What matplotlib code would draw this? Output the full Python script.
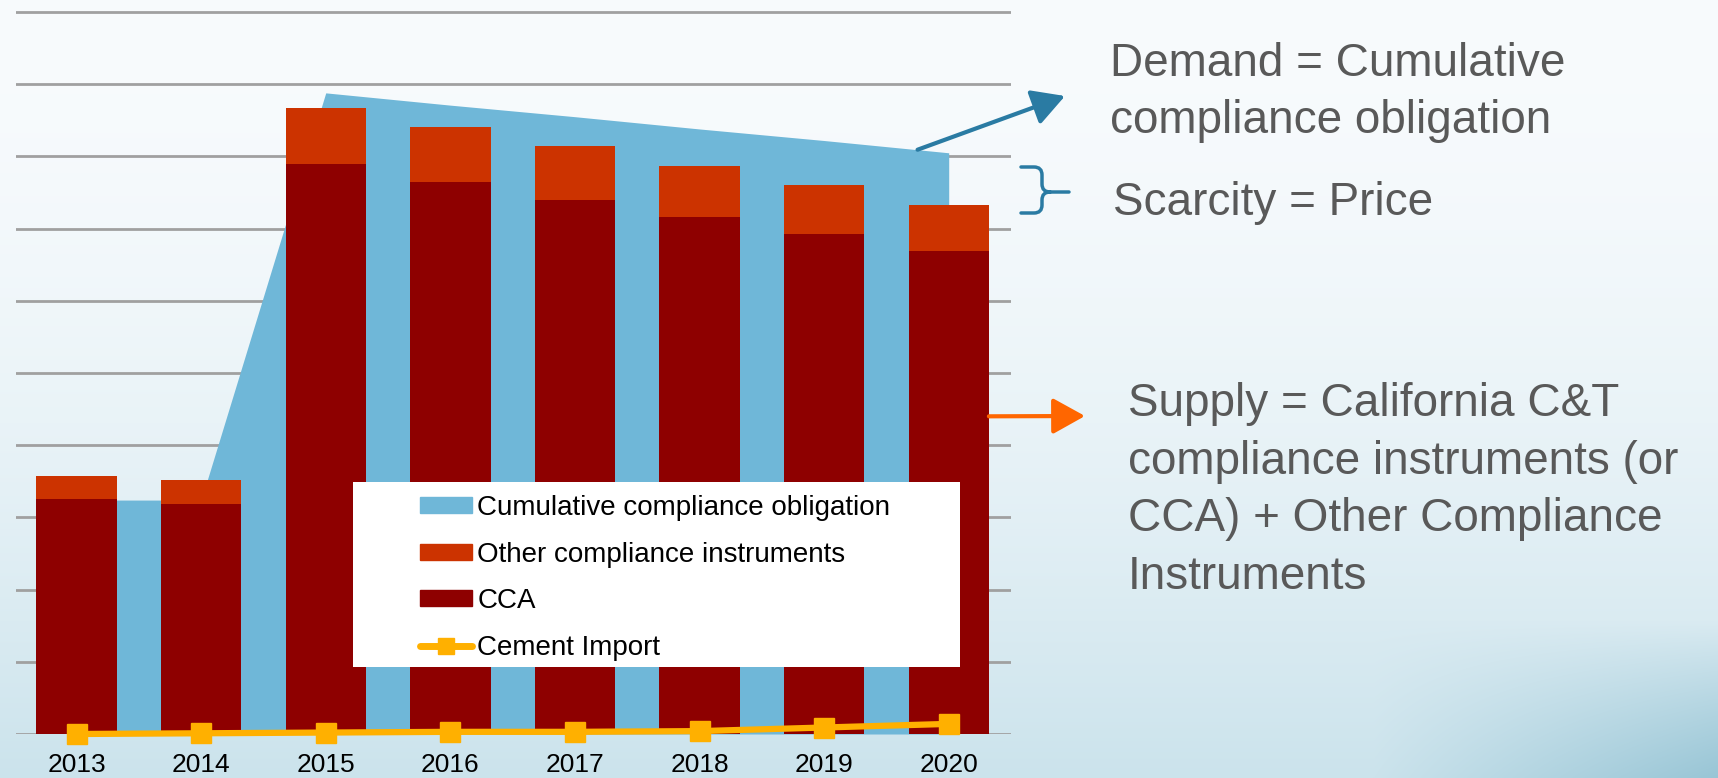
import numpy as np
import matplotlib
matplotlib.use("Agg")
import matplotlib.pyplot as plt
from matplotlib.patches import Rectangle, Patch, PathPatch
from matplotlib.lines import Line2D
from matplotlib.path import Path
from matplotlib.transforms import Affine2D

plt.rcParams['font.family'] = ['Liberation Sans', 'DejaVu Sans']

# data (units = gridline steps)
years = ['2013', '2014', '2015', '2016', '2017', '2018', '2019', '2020']
demand = [3.24, 3.24, 8.88, 8.71, 8.55, 8.38, 8.22, 8.05]
cca = [3.25, 3.19, 7.89, 7.65, 7.39, 7.16, 6.92, 6.69]
other = [0.32, 0.33, 0.78, 0.76, 0.75, 0.71, 0.68, 0.64]
cement = [0.0, 0.01, 0.02, 0.03, 0.03, 0.04, 0.09, 0.14]

labels = ['Cumulative compliance obligation', 'Other compliance instruments',
          'CCA', 'Cement Import']

C_BLUE = '#6FB7D8'
C_OTHER = '#CC3300'
C_CCA = '#8E0000'
C_CEMENT = '#FFB000'
C_TEXT = '#595959'
C_ARROW = '#2A7BA3'

W, H = 1718, 778
fig = plt.figure(figsize=(W / 100, H / 100), dpi=100)


def px(x, y):
    # pixel position (origin top-left) -> figure fraction
    return x / W, 1 - y / H


# slide background
bg = fig.add_axes([0, 0, 1, 1], zorder=-10)
yy, xx = np.mgrid[0:1:H * 1j, 0:1:W * 1j]
top = np.array([248, 251, 253]) / 255
bot = np.array([203, 227, 236]) / 255
t = yy ** 1.8
img = top * (1 - t[..., None]) + bot * t[..., None]
s = np.clip((xx - 0.8) / 0.2, 0, 1) * np.clip((yy - 0.8) / 0.2, 0, 1)
dark = np.array([140, 190, 208]) / 255
img = img * (1 - 0.8 * s[..., None]) + dark * 0.8 * s[..., None]
bg.imshow(img, aspect='auto', extent=[0, 1, 0, 1])
bg.axis('off')

# chart
ymax = 10.05
ax = fig.add_axes([16 / W, 1 - 734 / H, (1011 - 16) / W, ymax * 72.2 / H])
ax.patch.set_alpha(0)
x = np.arange(len(years))
bw = 0.645

ax.fill_between(x, 0, demand, color=C_BLUE, lw=0, zorder=2)
ax.bar(x, cca, width=bw, color=C_CCA, zorder=3)
ax.bar(x, other, bottom=cca, width=bw, color=C_OTHER, zorder=3)
ax.plot(x, cement, color=C_CEMENT, lw=4.5, marker='s', ms=15, zorder=4, clip_on=False)

ax.set_xlim(-0.486, 7.5)
ax.set_ylim(0, ymax)
ax.set_yticks(range(11))
ax.yaxis.grid(True, color='#A0A0A0', lw=2)
ax.set_axisbelow(True)
ax.tick_params(axis='y', length=0, labelleft=False)
ax.set_xticks(x, years)
ax.tick_params(axis='x', length=0, pad=14, labelsize=19)
for sp in ax.spines.values():
    sp.set_visible(False)

# legend on a white box
x0, y0 = px(353, 667)
x1, y1 = px(960, 482)
ax.add_patch(Rectangle((x0, y0), x1 - x0, y1 - y0, transform=fig.transFigure,
                       facecolor='white', edgecolor='none', zorder=6, clip_on=False))
handles = [Patch(color=C_BLUE), Patch(color=C_OTHER), Patch(color=C_CCA),
           Line2D([], [], color=C_CEMENT, lw=5, marker='s', ms=11, solid_capstyle='round')]
leg = ax.legend(handles, labels, loc='upper left', bbox_to_anchor=px(420, 495),
                bbox_transform=fig.transFigure, frameon=False, fontsize=20,
                handlelength=1.86, handleheight=0.5, handletextpad=0.2,
                labelspacing=0.74, borderpad=0, borderaxespad=0)
leg.set_zorder(7)

# annotations on the right (va='baseline' anchors the last line)
fig.text(*px(1110, 133), 'Demand = Cumulative\ncompliance obligation', fontsize=33,
         color=C_TEXT, va='baseline', linespacing=1.39)
fig.text(*px(1113, 215), 'Scarcity = Price', fontsize=33, color=C_TEXT, va='baseline')
fig.text(*px(1128, 589),
         'Supply = California C&T\ncompliance instruments (or\nCCA) + Other Compliance\nInstruments',
         fontsize=33, color=C_TEXT, va='baseline', linespacing=1.40)

xs = 6.75
ax.annotate('', xy=px(1065, 96), xycoords='figure fraction',
            xytext=(xs, np.interp(xs, x, demand)), textcoords='data',
            arrowprops=dict(arrowstyle='-|>,head_length=0.9,head_width=0.5', color=C_ARROW,
                            lw=3, shrinkA=0, shrinkB=0, mutation_scale=22),
            annotation_clip=False)
ax.annotate('', xy=px(1085, 416), xycoords='figure fraction',
            xytext=(7 + bw / 2, 4.4), textcoords='data',
            arrowprops=dict(arrowstyle='-|>,head_length=0.9,head_width=0.5', color='#FF6600',
                            lw=3, shrinkA=0, shrinkB=0, mutation_scale=22),
            annotation_clip=False)

# curly brace
verts = [(1021, 167), (1034, 167), (1042, 167), (1042, 175), (1042, 184),
         (1042, 192), (1050, 192), (1069, 192),
         (1050, 192), (1042, 192), (1042, 200), (1042, 205), (1042, 213), (1034, 213),
         (1021, 213)]
codes = [Path.MOVETO, Path.LINETO, Path.CURVE3, Path.CURVE3, Path.LINETO,
         Path.CURVE3, Path.CURVE3, Path.LINETO,
         Path.MOVETO, Path.CURVE3, Path.CURVE3, Path.LINETO, Path.CURVE3, Path.CURVE3,
         Path.LINETO]
to_fig = Affine2D().scale(1 / W, -1 / H).translate(0, 1) + fig.transFigure
fig.add_artist(PathPatch(Path(verts, codes), transform=to_fig, facecolor='none',
                         edgecolor=C_ARROW, lw=2.5, capstyle='round'))

fig.savefig('out.png', dpi=100)
